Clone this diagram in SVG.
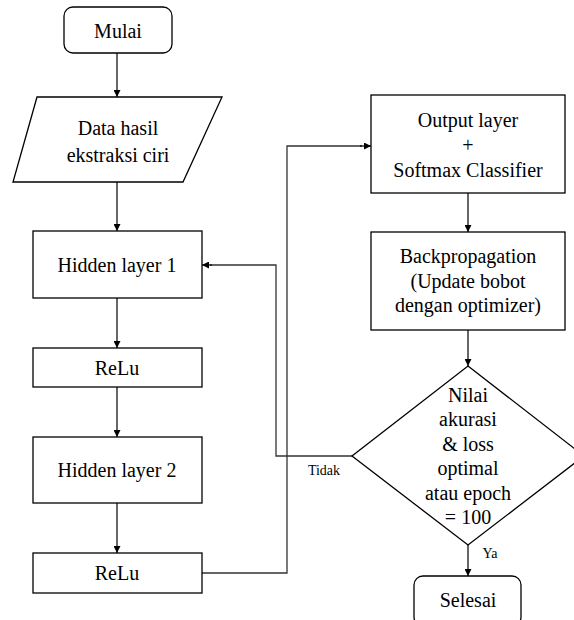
<svg xmlns="http://www.w3.org/2000/svg" width="574" height="620" viewBox="0 0 574 620">
<defs>
<marker id="ah" viewBox="0 0 10 10" refX="10" refY="5" markerWidth="7" markerHeight="7" markerUnits="userSpaceOnUse" orient="auto">
<path d="M0,0 L10,5 L0,10 z" fill="#000"/>
</marker>
<style>
.n{fill:#fff;stroke:#000;stroke-width:1.3}
.t{font-family:"Liberation Serif","Times New Roman",serif;font-size:20px;fill:#000;text-anchor:middle}
.s{font-family:"Liberation Serif","Times New Roman",serif;font-size:14px;fill:#000;text-anchor:middle}
.c{fill:none;stroke:#000;stroke-width:1.2;marker-end:url(#ah)}
.l{fill:none;stroke:#333;stroke-width:1.3}
</style>
</defs>
<rect width="574" height="620" fill="#fff"/>
<g id="connectors">
<path class="c" d="M117,53 V97"/>
<path class="c" d="M117,182 V231"/>
<path class="c" d="M117,298 V348"/>
<path class="c" d="M117,387 V437"/>
<path class="c" d="M117,503 V553"/>
<path class="c" d="M468,193 V232"/>
<path class="c" d="M468,330 V366"/>
<path class="c" d="M468,545 V576"/>
<path class="l" d="M352,456 H276 V265 H210"/>
<path class="c" d="M212,265 H202"/>
<path class="l" d="M202,573 H287 V146 H362"/>
<path class="c" d="M360,146 H371"/>
</g>
<g id="mulai">
<rect class="n" x="64" y="7" width="108" height="46" rx="9"/>
<text class="t" x="118" y="38">Mulai</text>
</g>
<g id="data">
<polygon class="n" points="37,97 222,97 183,182 13,182"/>
<text class="t" x="118" y="135">Data hasil</text>
<text class="t" x="118" y="162">ekstraksi ciri</text>
</g>
<g id="hidden1">
<rect class="n" x="33" y="231" width="169" height="67"/>
<text class="t" x="117" y="272">Hidden layer 1</text>
</g>
<g id="relu1">
<rect class="n" x="33" y="348" width="169" height="39"/>
<text class="t" x="117" y="375">ReLu</text>
</g>
<g id="hidden2">
<rect class="n" x="33" y="437" width="169" height="66"/>
<text class="t" x="117" y="477">Hidden layer 2</text>
</g>
<g id="relu2">
<rect class="n" x="33" y="553" width="169" height="40"/>
<text class="t" x="117" y="580">ReLu</text>
</g>
<g id="output">
<rect class="n" x="371" y="95" width="194" height="98"/>
<text class="t" x="468" y="127">Output layer</text>
<text class="t" x="468" y="152">+</text>
<text class="t" x="468" y="177">Softmax Classifier</text>
</g>
<g id="backprop">
<rect class="n" x="371" y="232" width="194" height="98"/>
<text class="t" x="468" y="263">Backpropagation</text>
<text class="t" x="468" y="288">(Update bobot</text>
<text class="t" x="468" y="312">dengan optimizer)</text>
</g>
<g id="decision">
<polygon class="n" points="468,366 584,456 468,545 352,456"/>
<text class="t" x="468" y="402">Nilai</text>
<text class="t" x="468" y="426">akurasi</text>
<text class="t" x="468" y="451">&amp; loss</text>
<text class="t" x="468" y="475">optimal</text>
<text class="t" x="468" y="500">atau epoch</text>
<text class="t" x="468" y="524">= 100</text>
</g>
<g id="labels">
<text class="s" x="324" y="475">Tidak</text>
<text class="s" x="490" y="558">Ya</text>
</g>
<g id="selesai">
<rect class="n" x="414" y="576" width="107" height="50" rx="9"/>
<text class="t" x="468" y="607">Selesai</text>
</g>
</svg>
